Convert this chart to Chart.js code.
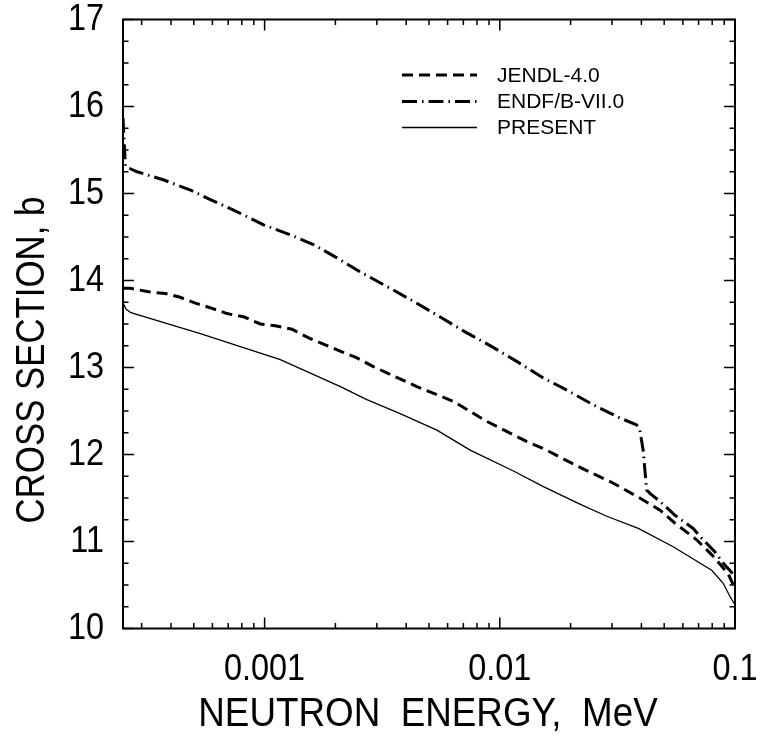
<!DOCTYPE html>
<html>
<head>
<meta charset="utf-8">
<script src="https://cdn.jsdelivr.net/npm/chart.js@4.4.1/dist/chart.umd.min.js"></script>
<style>
  html, body { margin: 0; padding: 0; background: #fff; }
  #wrap { width: 760px; height: 746px; }
</style>
</head>
<body>
<div id="wrap"><canvas id="chart" width="760" height="746"></canvas></div>
<script>
// Total cross section vs neutron energy (MeV, barns)
const presentEnergy = [2.5e-4, 2.58e-4, 2.7e-4, 5.33e-4, 1.166e-3, 2.10e-3, 2.72e-3, 3.77e-3, 5.40e-3, 7.48e-3,
  1.143e-2, 1.532e-2, 2.19e-2, 2.85e-2, 3.88e-2, 5.46e-2, 7.96e-2, 8.91e-2, 9.51e-2, 0.1];
const presentXS = [13.74, 13.67, 13.63, 13.39, 13.09, 12.78, 12.63, 12.47, 12.28, 12.05,
  11.81, 11.63, 11.43, 11.29, 11.15, 10.94, 10.67, 10.52, 10.37, 10.27];

const jendlEnergy = [2.5e-4, 2.69e-4, 3.21e-4, 3.79e-4, 4.34e-4, 5.08e-4, 5.98e-4, 6.92e-4, 8.20e-4, 9.59e-4,
  1.11e-3, 1.307e-3, 1.54e-3, 1.81e-3, 2.13e-3, 2.47e-3, 2.90e-3, 4.44e-3, 6.35e-3, 8.81e-3,
  1.30e-2, 1.53e-2, 2.16e-2, 3.04e-2, 3.94e-2, 4.80e-2, 5.56e-2, 6.87e-2, 8.08e-2, 9.35e-2, 0.1];
const jendlXS = [13.91, 13.91, 13.87, 13.85, 13.81, 13.74, 13.68, 13.62, 13.58, 13.50,
  13.48, 13.44, 13.34, 13.26, 13.18, 13.11, 13.01, 12.78, 12.61, 12.38,
  12.15, 12.07, 11.86, 11.67, 11.50, 11.36, 11.21, 11.02, 10.83, 10.63, 10.46];

const endfEnergy = [2.5e-4, 2.56e-4, 2.87e-4, 3.73e-4, 4.84e-4, 5.88e-4, 7.38e-4, 9.9e-4, 1.245e-3, 1.62e-3,
  2.03e-3, 2.51e-3, 3.42e-3, 4.30e-3, 5.58e-3, 7.12e-3, 9.25e-3, 1.18e-2, 1.53e-2, 1.93e-2,
  2.50e-2, 3.24e-2, 3.82e-2, 3.94e-2, 4.07e-2, 4.21e-2, 4.36e-2, 4.80e-2, 5.56e-2, 6.64e-2,
  7.09e-2, 8.22e-2, 8.92e-2, 0.1];
const endfXS = [15.87, 15.31, 15.25, 15.155, 15.04, 14.93, 14.81, 14.64, 14.54, 14.41,
  14.26, 14.11, 13.91, 13.76, 13.58, 13.41, 13.24, 13.07, 12.88, 12.74,
  12.57, 12.42, 12.34, 12.28, 12.05, 11.59, 11.55, 11.46, 11.30, 11.15,
  11.06, 10.88, 10.75, 10.60];

const seriesNames = ['JENDL-4.0', 'ENDF/B-VII.0', 'PRESENT'];

const xTickValues = [0.001, 0.01, 0.1];
const xTickLabels = ['0.001', '0.01', '0.1'];
const yTickValues = [10, 11, 12, 13, 14, 15, 16, 17];
const yTickLabels = ['10', '11', '12', '13', '14', '15', '16', '17'];
const xTitle = 'NEUTRON  ENERGY,  MeV';
const yTitle = 'CROSS SECTION, b';

const X_MIN = 2.5e-4, X_MAX = 0.1, Y_MIN = 10, Y_MAX = 17;

const SANS = '"Liberation Sans", Arial, Helvetica, sans-serif';

const toPoints = (xs, ys) => xs.map((e, i) => ({ x: e, y: ys[i] }));

// Text in a slightly condensed Helvetica look (horizontal squeeze)
function squeezedText(ctx, str, x, y, size, sx, align, angle) {
  ctx.save();
  ctx.translate(x, y);
  if (angle) ctx.rotate(angle);
  ctx.scale(sx, 1);
  ctx.font = size + 'px ' + SANS;
  ctx.textAlign = align;
  ctx.textBaseline = 'middle';
  ctx.fillStyle = '#000';
  ctx.fillText(str, 0, 0);
  ctx.restore();
}

// Frame, inward tick marks on all four sides, tick labels, axis titles and the in-plot legend
const framePlugin = {
  id: 'framePlugin',
  afterDatasetsDraw(chart) {
    const { ctx, chartArea: a, scales: { x, y } } = chart;
    ctx.save();
    ctx.strokeStyle = '#000';
    ctx.setLineDash([]);

    // horizontal-axis ticks (decades long, sub-decades short)
    ctx.lineWidth = 1.5;
    const xMarks = [];
    for (let d = 1e-4; d < 1; d *= 10) {
      for (let k = 1; k <= 9; k++) {
        const v = k * d;
        if (v > X_MIN * 1.0001 && v <= X_MAX * 1.0001) xMarks.push({ v, major: k === 1 });
      }
    }
    ctx.beginPath();
    xMarks.forEach(t => {
      const px = x.getPixelForValue(t.v);
      const len = t.major ? 11 : 5.5;
      ctx.moveTo(px, a.bottom); ctx.lineTo(px, a.bottom - len);
      ctx.moveTo(px, a.top); ctx.lineTo(px, a.top + len);
    });
    // vertical-axis ticks every 0.25 b
    for (let v = Y_MIN; v <= Y_MAX + 1e-9; v += 0.25) {
      const py = y.getPixelForValue(v);
      const len = Math.abs(v - Math.round(v)) < 1e-9 ? 11 : 5.5;
      ctx.moveTo(a.left, py); ctx.lineTo(a.left + len, py);
      ctx.moveTo(a.right, py); ctx.lineTo(a.right - len, py);
    }
    ctx.stroke();

    ctx.lineWidth = 2;
    ctx.strokeRect(a.left, a.top, a.right - a.left, a.bottom - a.top);

    // tick labels from the scales' own ticks
    x.ticks.forEach((t, i) => {
      squeezedText(ctx, xTickLabels[i], x.getPixelForValue(t.value), a.bottom + 41.5, 36, 0.9, 'center');
    });
    y.ticks.forEach((t, i) => {
      squeezedText(ctx, yTickLabels[i], 104, y.getPixelForValue(t.value) + 0.5, 36, 0.9, 'right');
    });

    // axis titles
    squeezedText(ctx, xTitle, (a.left + a.right) / 2 - 1, 715, 40, 0.92, 'center');
    squeezedText(ctx, yTitle, 33, 360, 40, 0.87, 'center', -Math.PI / 2);

    // legend
    const rows = [75, 101.5, 127.5];
    chart.data.datasets.forEach((ds, i) => {
      ctx.save();
      ctx.lineWidth = ds.borderWidth;
      ctx.setLineDash(ds.borderDash || []);
      ctx.beginPath();
      ctx.moveTo(402, rows[i]); ctx.lineTo(477, rows[i]);
      ctx.stroke();
      ctx.restore();
      ctx.font = '21px ' + SANS;
      ctx.fillStyle = '#000';
      ctx.textAlign = 'left';
      ctx.textBaseline = 'middle';
      ctx.fillText(ds.label, 497, rows[i] + 1);
    });
    ctx.restore();
  }
};

new Chart(document.getElementById('chart'), {
  type: 'scatter',
  data: {
    datasets: [
      { label: seriesNames[0], data: toPoints(jendlEnergy, jendlXS), showLine: true,
        borderColor: '#000', borderWidth: 3, borderDash: [11, 6], pointRadius: 0, tension: 0 },
      { label: seriesNames[1], data: toPoints(endfEnergy, endfXS), showLine: true,
        borderColor: '#000', borderWidth: 3, borderDash: [15, 5, 1.5, 5], pointRadius: 0, tension: 0 },
      { label: seriesNames[2], data: toPoints(presentEnergy, presentXS), showLine: true,
        borderColor: '#000', borderWidth: 1.3, pointRadius: 0, tension: 0 }
    ]
  },
  options: {
    responsive: false,
    animation: false,
    devicePixelRatio: 1,
    layout: { padding: { top: 19.5, right: 25, left: 0, bottom: 0 } },
    plugins: { legend: { display: false }, tooltip: { enabled: false } },
    scales: {
      x: {
        type: 'logarithmic', min: X_MIN, max: X_MAX, position: 'bottom',
        grid: { display: false, drawTicks: false },
        border: { display: false },
        ticks: { display: false },
        afterBuildTicks: s => { s.ticks = xTickValues.map(v => ({ value: v, major: true })); },
        afterFit: s => { s.height = 117.5; s.paddingLeft = 0; s.paddingRight = 0; }
      },
      y: {
        type: 'linear', min: Y_MIN, max: Y_MAX, position: 'left',
        grid: { display: false, drawTicks: false },
        border: { display: false },
        ticks: { display: false },
        afterBuildTicks: s => { s.ticks = yTickValues.map(v => ({ value: v })); },
        afterFit: s => { s.width = 123; s.paddingTop = 0; s.paddingBottom = 0; }
      }
    }
  },
  plugins: [framePlugin]
});
</script>
</body>
</html>
